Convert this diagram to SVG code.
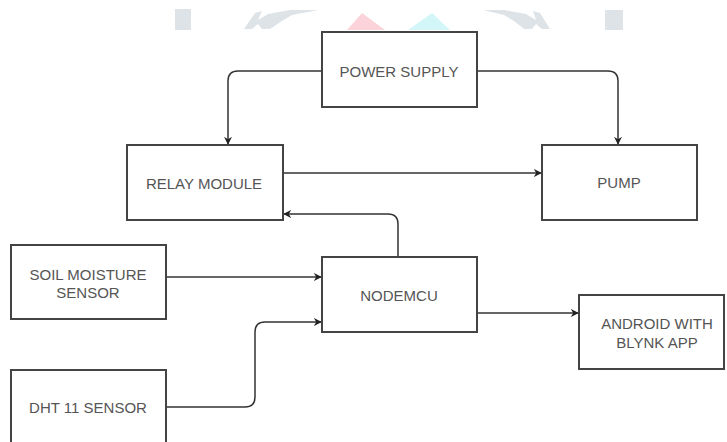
<svg xmlns="http://www.w3.org/2000/svg" width="727" height="442" viewBox="0 0 727 442">
<style>
.box{fill:#fff;stroke:#444;stroke-width:2}
.lbl{font-family:"Liberation Sans",Arial,sans-serif;font-size:15px;fill:#555;text-anchor:middle;dominant-baseline:central}
.edge{fill:none;stroke:#333;stroke-width:1.5}
.wm{fill:#dde3e6}
</style>
<defs>
<marker id="arr" viewBox="0 0 10 10" refX="9" refY="5" markerWidth="8" markerHeight="8" markerUnits="userSpaceOnUse" orient="auto">
<path d="M0,0 L10,5 L0,10 L3,5 Z" fill="#222"/>
</marker>
</defs>
<rect width="727" height="442" fill="#fff"/>
<g id="watermark">
<rect class="wm" x="175" y="9" width="16" height="21"/>
<path class="wm" d="M244,29 L255,13 L262,11 L258,20 L268,14 L290,10 L318,10 L292,15 L282,21 L270,29 L262,29 L258,24 L252,29 Z"/>
<path d="M347,30 L362,13 L385,30 Z" fill="#fbd3d8"/>
<path d="M408,30 L432,13 L450,30 Z" fill="#d3f7f9"/>
<path class="wm" d="M550,29 L540,13 L533,11 L536,20 L526,14 L504,10 L483,10 L504,15 L514,21 L524,29 L532,29 L536,24 L542,29 Z"/>
<rect class="wm" x="605" y="10" width="18" height="20"/>
</g>
<g id="connectors">
<path class="edge" d="M322,71 H238 Q228,71 228,81 V144" marker-end="url(#arr)"/>
<path class="edge" d="M477,71 H608 Q618,71 618,81 V144" marker-end="url(#arr)"/>
<path class="edge" d="M283,173 H541" marker-end="url(#arr)"/>
<path class="edge" d="M398,257 V224 Q398,214 388,214 H284" marker-end="url(#arr)"/>
<path class="edge" d="M166,277 H321" marker-end="url(#arr)"/>
<path class="edge" d="M166,407 H245 Q255,407 255,397 V332 Q255,322 265,322 H321" marker-end="url(#arr)"/>
<path class="edge" d="M477,313 H578" marker-end="url(#arr)"/>
</g>
<g id="power-supply">
<rect class="box" x="322" y="32" width="155" height="75"/>
<text class="lbl" x="399" y="71">POWER SUPPLY</text>
</g>
<g id="relay-module">
<rect class="box" x="127" y="145" width="156" height="75"/>
<text class="lbl" x="204" y="183">RELAY MODULE</text>
</g>
<g id="pump">
<rect class="box" x="542" y="145" width="155" height="75"/>
<text class="lbl" x="619" y="182">PUMP</text>
</g>
<g id="soil-moisture-sensor">
<rect class="box" x="11" y="245" width="155" height="74"/>
<text class="lbl" x="88" y="274">SOIL MOISTURE</text>
<text class="lbl" x="88" y="292">SENSOR</text>
</g>
<g id="nodemcu">
<rect class="box" x="322" y="257" width="155" height="75"/>
<text class="lbl" x="399" y="295">NODEMCU</text>
</g>
<g id="android">
<rect class="box" x="579" y="295" width="145" height="74"/>
<text class="lbl" x="657" y="323">ANDROID WITH</text>
<text class="lbl" x="657" y="342">BLYNK APP</text>
</g>
<g id="dht11-sensor">
<rect class="box" x="11" y="370" width="155" height="80"/>
<text class="lbl" x="88" y="407">DHT 11 SENSOR</text>
</g>
</svg>
